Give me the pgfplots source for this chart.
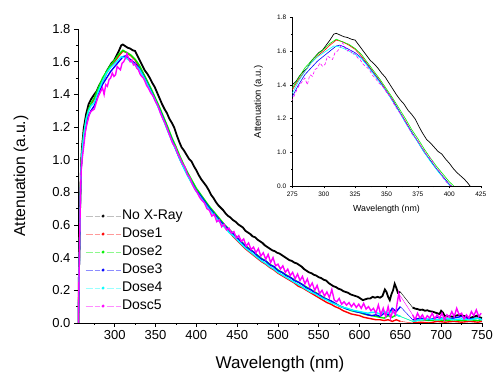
\documentclass[border=0pt]{standalone}
\usepackage{fontspec}
\setmainfont{Liberation Sans}
\usepackage{pgfplots}
\usepackage{pgfplotstable}
\pgfplotsset{compat=1.18}
\definecolor{cK}{RGB}{0,0,0}
\definecolor{cR}{RGB}{255,0,0}
\definecolor{cG}{RGB}{0,240,0}
\definecolor{cB}{RGB}{0,0,255}
\definecolor{cC}{RGB}{0,255,255}
\definecolor{cM}{RGB}{255,0,255}

\pgfplotstableread{
x y
255.5 0.00
256 0.25
257 0.55
258 0.82
259 1.00
260 1.08
262 1.19
265 1.28
268 1.34
271 1.37
275 1.40
278 1.42
281 1.455
284 1.48
287 1.50
290 1.54
293 1.565
296 1.59
299 1.605
302 1.635
305 1.665
308 1.70
310 1.705
313 1.695
316 1.685
319 1.68
322 1.67
325 1.665
328 1.635
331 1.605
334 1.575
337 1.545
340 1.525
343 1.50
346 1.47
349 1.445
352 1.41
355 1.375
358 1.34
361 1.31
364 1.285
367 1.25
370 1.225
373 1.195
376 1.15
379 1.11
382 1.075
385 1.055
388 1.03
391 1.005
394 0.99
397 0.96
400 0.935
403 0.905
406 0.88
409 0.86
412 0.84
415 0.815
418 0.785
421 0.765
424 0.74
427 0.72
430 0.705
433 0.69
436 0.67
439 0.655
442 0.645
445 0.63
448 0.62
451 0.605
454 0.595
457 0.585
460 0.565
463 0.555
466 0.545
469 0.53
472 0.525
475 0.51
478 0.50
481 0.49
484 0.475
487 0.465
490 0.455
493 0.445
496 0.44
499 0.43
502 0.425
505 0.415
508 0.405
511 0.395
514 0.385
517 0.38
520 0.37
523 0.365
526 0.355
529 0.345
532 0.33
535 0.32
538 0.31
541 0.305
544 0.295
547 0.29
550 0.28
553 0.275
556 0.265
559 0.26
562 0.245
565 0.235
568 0.225
571 0.22
574 0.21
577 0.205
580 0.195
583 0.19
586 0.185
589 0.175
592 0.17
595 0.165
598 0.16
601 0.15
604 0.14
607 0.145
610 0.15
613 0.15
616 0.16
619 0.155
622 0.16
625 0.155
628 0.165
631 0.205
633 0.19
635 0.16
637 0.14
639 0.175
641 0.20
643 0.24
645 0.215
647 0.185
650 0.19
nan nan
665 0.095
668 0.088
671 0.085
674 0.08
677 0.082
680 0.075
683 0.078
686 0.072
689 0.07
692 0.065
695 0.06
698 0.055
700 0.075
702 0.065
704 0.045
707 0.04
710 0.042
714 0.038
718 0.045
722 0.05
726 0.045
730 0.04
734 0.03
738 0.035
741 0.04
744 0.045
747 0.035
750 0.03
}\tK

\pgfplotstableread{
x y
255.5 0
256 0.22
257 0.52
258 0.80
259 0.98
260 1.05
262 1.15
265 1.24
268 1.31
271 1.34
275 1.37
280 1.43
285 1.48
290 1.53
295 1.57
300 1.60
305 1.635
310 1.665
315 1.655
320 1.635
325 1.61
330 1.57
335 1.52
340 1.47
345 1.42
350 1.365
355 1.31
360 1.245
365 1.185
370 1.12
375 1.065
380 1.005
385 0.95
390 0.90
395 0.855
400 0.81
405 0.775
410 0.74
415 0.705
420 0.675
425 0.645
430 0.615
435 0.585
440 0.56
445 0.53
450 0.505
455 0.48
460 0.455
465 0.435
470 0.415
475 0.395
480 0.375
485 0.36
490 0.34
495 0.325
500 0.305
505 0.29
510 0.275
515 0.26
520 0.245
525 0.225
530 0.215
535 0.20
540 0.185
545 0.17
550 0.155
555 0.14
560 0.125
565 0.115
570 0.10
575 0.09
580 0.075
585 0.065
590 0.055
595 0.05
600 0.045
605 0.035
610 0.03
615 0.025
620 0.02
625 0.02
630 0.015
635 0.02
640 0.01
645 0.02
650 0.01
nan nan
665 0.00
675 0.005
685 0.0
695 0.01
705 0.005
715 0.01
725 0.005
735 0.01
745 0.005
750 0.01
}\tR

\pgfplotstableread{
x y
255.5 0
256 0.2
257 0.5
258 0.79
259 0.97
260 1.05
262 1.16
265 1.25
268 1.31
271 1.345
275 1.38
280 1.44
285 1.50
290 1.54
295 1.58
300 1.61
305 1.645
310 1.67
315 1.655
320 1.64
325 1.615
330 1.58
335 1.53
340 1.48
345 1.43
350 1.375
355 1.32
360 1.26
365 1.20
370 1.135
375 1.08
380 1.02
385 0.965
390 0.915
395 0.87
400 0.825
405 0.79
410 0.755
415 0.72
420 0.69
425 0.66
430 0.63
435 0.60
440 0.575
445 0.55
450 0.525
455 0.50
460 0.475
465 0.455
470 0.435
475 0.415
480 0.395
485 0.38
490 0.36
495 0.345
500 0.325
505 0.31
510 0.295
515 0.28
520 0.265
525 0.25
530 0.235
535 0.22
540 0.205
545 0.19
550 0.175
555 0.16
560 0.145
565 0.135
570 0.12
575 0.105
580 0.095
585 0.085
590 0.075
595 0.07
600 0.065
605 0.055
610 0.05
615 0.045
620 0.04
625 0.035
630 0.03
635 0.045
640 0.035
645 0.05
650 0.04
nan nan
665 0.01
675 0.02
685 0.015
695 0.02
705 0.015
715 0.02
725 0.015
735 0.02
745 0.015
750 0.02
}\tG

\pgfplotstableread{
x y
255.5 0
256 0.18
257 0.48
258 0.78
259 0.95
260 1.02
262 1.12
265 1.21
268 1.27
271 1.30
275 1.33
280 1.40
285 1.46
290 1.50
295 1.54
300 1.57
305 1.60
310 1.63
313 1.635
316 1.625
320 1.61
325 1.59
330 1.56
335 1.515
340 1.465
345 1.415
350 1.36
355 1.305
360 1.245
365 1.18
370 1.12
375 1.06
380 1.00
385 0.95
390 0.90
395 0.855
400 0.81
405 0.78
410 0.745
415 0.71
420 0.68
425 0.65
430 0.62
435 0.595
440 0.57
445 0.545
450 0.52
455 0.495
460 0.47
465 0.45
470 0.435
475 0.41
480 0.39
485 0.38
490 0.355
495 0.345
500 0.32
505 0.31
510 0.29
515 0.28
520 0.26
525 0.25
530 0.235
535 0.215
540 0.205
545 0.185
550 0.175
555 0.155
560 0.145
565 0.135
570 0.12
575 0.105
580 0.095
585 0.085
590 0.08
595 0.07
600 0.065
605 0.06
610 0.05
615 0.045
620 0.05
625 0.04
630 0.06
635 0.05
640 0.09
645 0.07
650 0.10
nan nan
665 0.02
675 0.03
685 0.02
695 0.035
705 0.025
715 0.03
725 0.04
735 0.025
745 0.03
750 0.02
}\tB

\pgfplotstableread{
x y
255.5 0
256 0.2
257 0.5
258 0.8
259 0.97
260 1.05
262 1.15
265 1.25
268 1.30
271 1.33
275 1.35
280 1.42
285 1.48
290 1.53
295 1.565
300 1.59
305 1.615
308 1.63
312 1.625
316 1.615
320 1.60
325 1.58
330 1.555
335 1.51
340 1.46
345 1.41
350 1.36
355 1.30
360 1.24
365 1.175
370 1.115
375 1.06
380 1.0
385 0.945
390 0.895
395 0.85
400 0.805
405 0.77
410 0.735
415 0.70
420 0.67
425 0.64
430 0.61
435 0.585
440 0.555
445 0.535
450 0.51
455 0.485
460 0.46
465 0.44
470 0.42
475 0.40
480 0.38
485 0.365
490 0.345
495 0.33
500 0.31
505 0.295
510 0.28
515 0.265
520 0.25
525 0.235
530 0.22
535 0.205
540 0.19
545 0.18
550 0.165
555 0.15
560 0.14
565 0.125
570 0.115
575 0.105
580 0.095
585 0.09
590 0.08
595 0.075
600 0.07
605 0.065
610 0.06
615 0.065
620 0.065
625 0.055
630 0.07
635 0.06
640 0.07
645 0.05
650 0.04
nan nan
665 0.01
675 0.02
685 0.025
695 0.02
705 0.03
715 0.02
725 0.025
735 0.02
745 0.03
750 0.02
}\tC

\pgfplotstableread{
x y
255.5 0
256 0.2
257 0.5
258 0.78
259 0.94
260 1.0
262 1.08
264 1.17
266 1.22
268 1.26
270 1.29
272 1.30
275 1.31
278 1.36
280 1.39
283 1.42
285 1.44
287 1.40
289 1.46
291 1.45
293 1.49
295 1.50
297 1.53
299 1.51
301 1.52
303 1.57
305 1.56
307 1.55
309 1.59
311 1.60
313 1.62
315 1.65
317 1.62
319 1.60
321 1.61
323 1.58
325 1.585
327 1.56
329 1.55
331 1.525
333 1.51
335 1.50
337 1.48
339 1.455
341 1.44
344 1.41
347 1.39
350 1.355
353 1.33
356 1.285
359 1.25
362 1.22
365 1.18
368 1.14
371 1.10
374 1.08
377 1.04
380 1.01
383 0.975
386 0.955
389 0.91
392 0.89
395 0.85
398 0.82
401 0.80
404 0.77
407 0.75
410 0.735
413 0.70
416 0.69
419 0.655
422 0.665
425 0.62
428 0.63
431 0.59
434 0.605
437 0.57
440 0.58
443 0.55
446 0.56
449 0.52
452 0.535
455 0.50
458 0.515
461 0.47
464 0.49
467 0.45
470 0.465
473 0.43
476 0.455
479 0.41
482 0.43
485 0.39
488 0.42
491 0.37
494 0.40
497 0.35
500 0.36
503 0.33
506 0.35
509 0.31
512 0.33
515 0.29
518 0.31
521 0.27
524 0.30
527 0.26
530 0.285
533 0.24
536 0.27
539 0.22
542 0.245
545 0.20
548 0.23
551 0.18
554 0.20
557 0.165
560 0.19
563 0.155
566 0.205
569 0.14
572 0.13
575 0.15
578 0.115
581 0.13
584 0.11
587 0.125
590 0.10
593 0.12
596 0.095
599 0.115
602 0.09
605 0.12
608 0.085
611 0.10
614 0.075
617 0.09
620 0.06
623 0.11
626 0.05
629 0.09
632 0.04
635 0.10
638 0.03
641 0.08
644 0.05
646 0.12
648 0.18
650 0.13
nan nan
665 0.05
668 0.02
671 0.06
674 0.03
677 0.05
680 0.02
683 0.045
686 0.03
689 0.06
692 0.025
695 0.05
698 0.03
701 0.06
704 0.02
707 0.05
710 0.035
713 0.07
716 0.04
719 0.09
722 0.05
725 0.06
728 0.025
731 0.05
734 0.03
737 0.07
740 0.045
743 0.08
746 0.04
749 0.06
}\tM

\newcommand{\legimg}[2]{\addlegendimage{legend image code/.code={%
  \draw[color=#1, line width=1pt, dash pattern=on 7pt off 2pt] (0pt,0pt) -- (14pt,0pt);
  \draw[color=#1, line width=1pt, dash pattern=on 7pt off 2pt] (21pt,0pt) -- (35pt,0pt);
  \fill[color=#2] (17.5pt,0pt) circle (1.3pt);}}}

\begin{document}
\begin{tikzpicture}
\path[use as bounding box] (-78pt,-51pt) rectangle (417pt,323pt);
\begin{axis}[
  at={(0pt,0pt)}, anchor=south west,
  scale only axis, width=404pt, height=294pt,
  xmin=255, xmax=750, ymin=0, ymax=1.8,
  axis lines=left, axis line style={-, line width=0.8pt},
  tick align=outside, major tick length=4pt, minor tick length=2pt,
  tick style={line width=0.7pt, black},
  xtick={300,350,...,750},
  minor xtick={275,325,...,725},
  ytick={0,0.2,...,1.8},
  minor ytick={0.1,0.3,...,1.7},
  yticklabel style={/pgf/number format/.cd, fixed, fixed zerofill, precision=1},
  /pgf/number format/assume math mode=true,
  ticklabel style={font=\fontsize{13}{13}\selectfont},
  xlabel={Wavelength (nm)}, ylabel={Attenuation (a.u.)},
  xlabel style={font=\fontsize{17}{17}\selectfont, at={(axis description cs:0.5,-0.139)}, anchor=center},
  ylabel style={font=\fontsize{15.8}{15.8}\selectfont, at={(axis description cs:-0.141,0.5)}, anchor=center},
  unbounded coords=jump,
  legend cell align=left,
  legend style={draw=none, fill=none, at={(rel axis cs:0.017,0.39)}, anchor=north west,
    inner sep=0pt, font=\fontsize{14}{14}\selectfont, row sep=3pt,
    nodes={text height=10pt, text depth=3pt, inner sep=1pt}},
]
\legimg{black!25}{black}
\addlegendentry{No X-Ray}
\legimg{cR!40}{cR}
\addlegendentry{Dose1}
\legimg{cG!45}{cG}
\addlegendentry{Dose2}
\legimg{cB!45}{cB}
\addlegendentry{Dose3}
\legimg{cC!40}{cC}
\addlegendentry{Dose4}
\legimg{cM!45}{cM}
\addlegendentry{Dosc5}

\addplot[cK, line width=1.8pt, forget plot] table {\tK};
\addplot[cK, line width=0.4pt, forget plot] coordinates {(650,0.19) (665,0.095)};
\addplot[cR, line width=1.4pt, forget plot] table {\tR};
\addplot[cR, line width=0.4pt, forget plot] coordinates {(650,0.01) (665,0.0)};
\addplot[cG, line width=1.4pt, forget plot] table {\tG};
\addplot[cG, line width=0.4pt, forget plot] coordinates {(650,0.04) (665,0.01)};
\addplot[cB, line width=1.4pt, forget plot] table {\tB};
\addplot[cB, line width=0.4pt, forget plot] coordinates {(650,0.10) (665,0.02)};
\addplot[cC, line width=1.4pt, forget plot] table {\tC};
\addplot[cC, line width=0.4pt, forget plot] coordinates {(650,0.04) (665,0.01)};
\addplot[cM, line width=1.4pt, forget plot] table {\tM};
\addplot[cM, line width=0.4pt, forget plot] coordinates {(648,0.18) (665,0.05)};
\end{axis}

\begin{axis}[
  at={(214.3pt,137pt)}, anchor=south west,
  scale only axis, width=188.4pt, height=168.7pt,
  xmin=275, xmax=425, ymin=0.8, ymax=1.8,
  axis lines=left, axis line style={-, line width=0.5pt},
  tick align=outside, major tick length=2.5pt, minor tick length=1.3pt,
  tick style={line width=0.4pt, black},
  xtick={275,300,...,425},
  minor xtick={287.5,312.5,...,412.5},
  ytick={0.8,1.0,1.2,1.4,1.6,1.8},
  yticklabels={0.0,1.0,1.2,1.4,1.6,1.8},
  minor ytick={0.9,1.1,1.3,1.5,1.7},
  /pgf/number format/assume math mode=true,
  ticklabel style={font=\fontsize{6.5}{6.5}\selectfont},
  xlabel={Wavelength (nm)}, ylabel={Attenuation (a.u.)},
  xlabel style={font=\fontsize{8.8}{8.8}\selectfont, at={(axis description cs:0.5,-0.136)}, anchor=center},
  ylabel style={font=\fontsize{9.5}{9.5}\selectfont, at={(axis description cs:-0.18,0.5)}, anchor=center},
  unbounded coords=jump,
]
\addplot[cK, line width=0.7pt] table {\tK};
\addplot[cR, line width=0.6pt] table {\tR};
\addplot[cG, line width=0.6pt] table {\tG};
\addplot[cB, line width=0.6pt] table {\tB};
\addplot[cC, line width=0.6pt] table {\tC};
\addplot[cM, line width=0.6pt, densely dashed] table {\tM};
\end{axis}
\end{tikzpicture}
\end{document}
